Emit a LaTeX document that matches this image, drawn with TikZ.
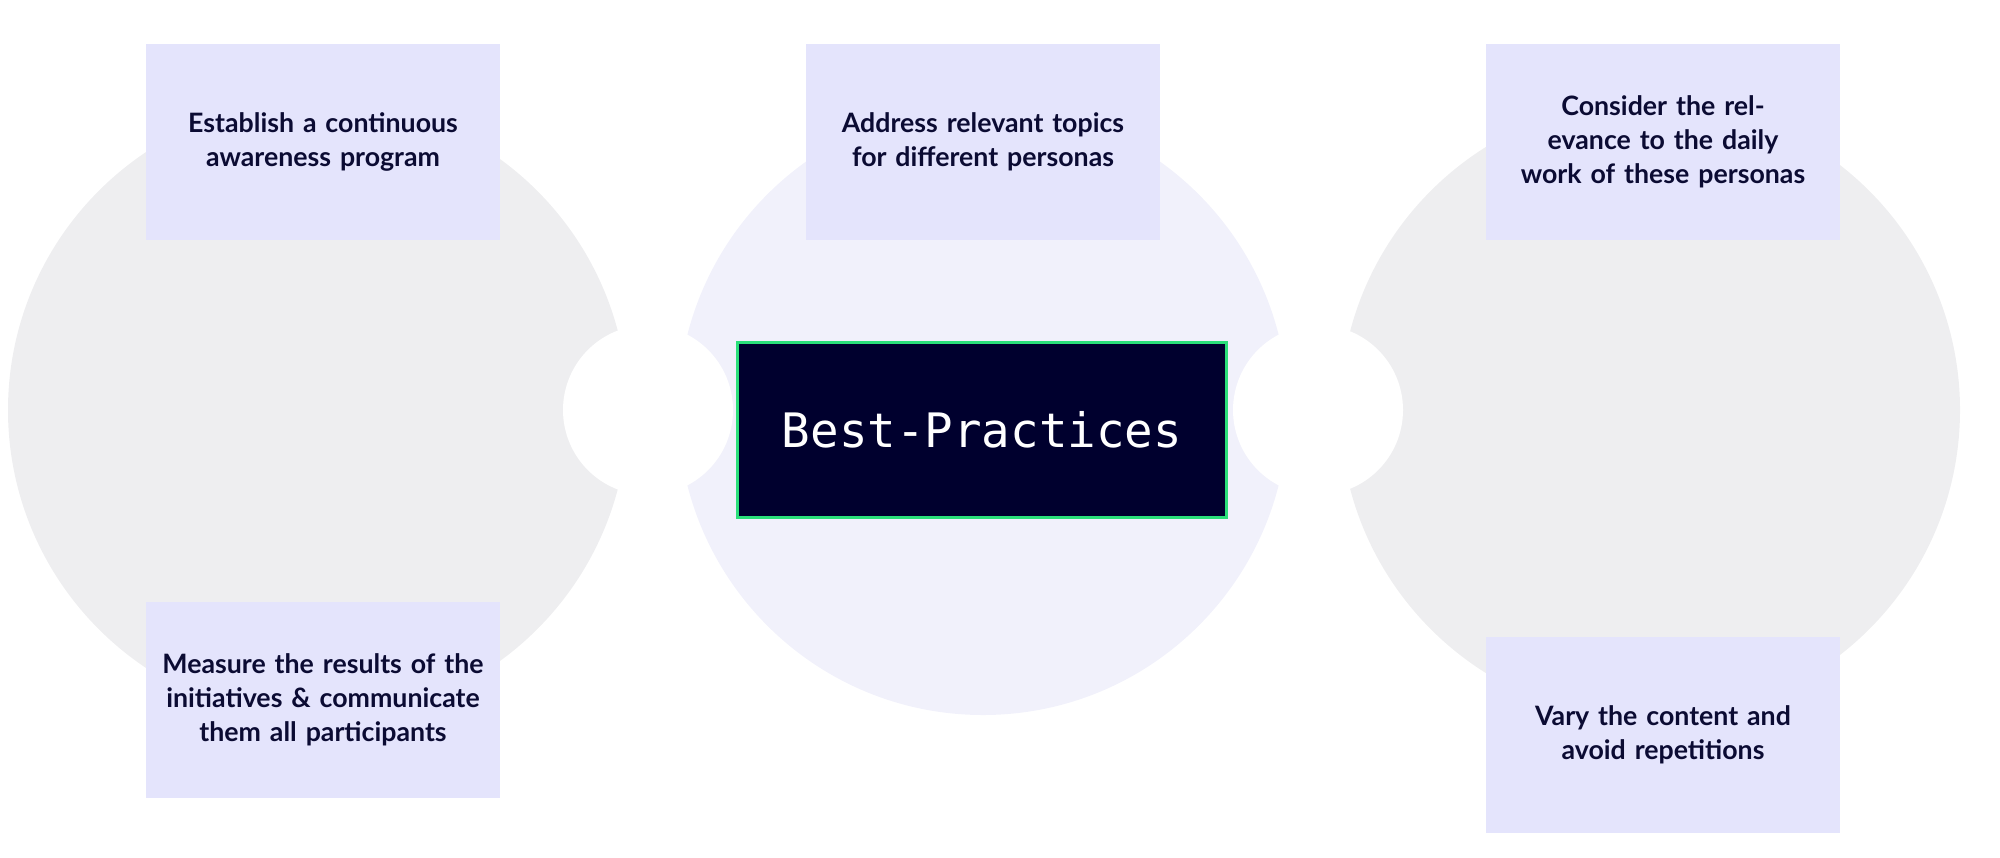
\documentclass[tikz,border=0pt]{standalone}
\usepackage{fontspec}
\setmainfont{Lato}
\newfontfamily\monofnt{DejaVu Sans Mono}
\definecolor{greyc}{HTML}{EEEEF0}
\definecolor{midc}{HTML}{F1F1FB}
\definecolor{boxc}{HTML}{E4E4FC}
\definecolor{txtc}{HTML}{0B0B33}
\definecolor{navy}{HTML}{00002E}
\definecolor{grn}{HTML}{2BE07A}
\begin{document}
\begin{tikzpicture}[x=0.01cm,y=-0.01cm,
  tbox/.style={fill=boxc,draw=none,minimum width=3.53cm,minimum height=1.95cm,text width=3.3cm,align=center,font=\fontsize{7.6pt}{9.6pt}\selectfont\bfseries,text=txtc,inner sep=0pt}]
\useasboundingbox (0,0) rectangle (2000,857);
\fill[greyc] (318,410) circle (310);
\fill[greyc] (1650,410) circle (310);
\fill[midc] (983,410) circle (305);
\fill[white] (648,410) circle (85);
\fill[white] (1318,410) circle (85);
\node[tbox] (a) at (323,142) {Establish a continuous awareness program};
\node[tbox] (b) at (983,142) {Address relevant topics for different personas};
\node[tbox] (c) at (1663,142) {Consider the relevance to the daily work of these personas};
\node[tbox] (d) at (323,700) {Measure the results of the initiatives \& communicate them all participants};
\node[tbox] (e) at (1663,735) {Vary the content and avoid repetitions};
\node[fill=navy,draw=grn,line width=0.8pt,minimum width=4.89cm,minimum height=1.75cm,text=white,font=\monofnt\fontsize{13.5pt}{16pt}\selectfont] (m) at (982,430) {Best-Practices};
\end{tikzpicture}
\end{document}
